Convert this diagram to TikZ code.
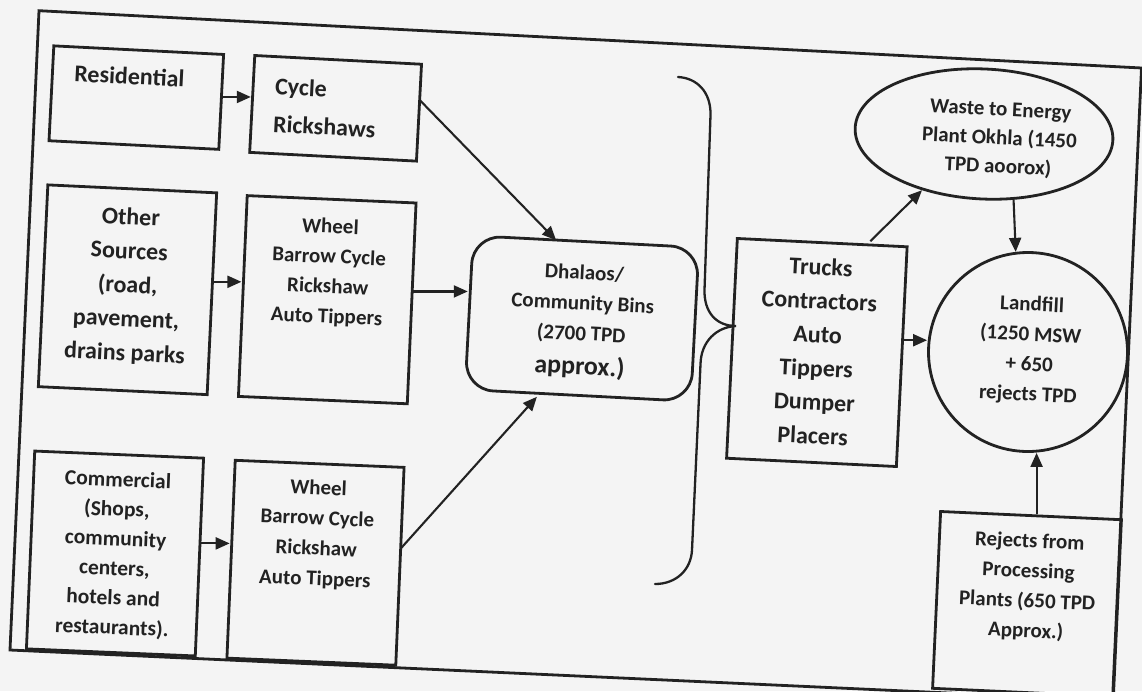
\documentclass[tikz,border=0pt]{standalone}
\usepackage{fontspec}
\setmainfont{Carlito}
\usetikzlibrary{arrows.meta,shapes.geometric}
\definecolor{ink}{HTML}{222222}
\definecolor{paper}{HTML}{F4F4F4}
% #1 width, #2 height, #3 first baseline from top, #4 font size, #5 baselineskip, #6 alignment, #7 text
\newcommand\bx[7]{\parbox[c][#2pt][t]{#1pt}{#6\fontsize{#4}{#5}\selectfont\rule{0pt}{#3pt}#7}}
\begin{document}
\begin{tikzpicture}[x=1pt,y=-1pt,
  box/.style={draw=ink,line width=2.8pt,inner sep=0pt,text=ink,font=\bfseries},
  txt/.style={inner sep=0pt,text=ink,font=\bfseries},
  arr/.style={draw=ink,line width=2.1pt,-{Triangle[length=14pt,width=12pt]}},
  framepath/.style={draw=ink,line width=2.8pt,line join=miter},
  bracepath/.style={draw=ink,line width=2.3pt,line cap=round}]
\useasboundingbox (0,0) rectangle (1142,691);
\clip (0,0) rectangle (1142,691);
\fill[paper] (0,0) rectangle (1142,691);
% outer frame
\draw[framepath] (39,10.7) -- (1141.5,68) -- (1112.5,700.5) -- (10,650) -- cycle;

% left column
\node[box,rotate=-2.9] (res) at (136.3,97.6)
  {\bx{170}{95}{34.5}{24}{34}{\raggedright}{\hspace*{22pt}Residential}};
\node[box,rotate=-3.0] (cyc) at (335.6,108.3)
  {\bx{167}{97}{37.7}{24}{38}{\raggedright}{\hspace*{22pt}Cycle\\\hspace*{22pt}Rickshaws}};
\node[box,rotate=-2.7] (oth) at (127.5,289.75)
  {\bx{169}{202}{36}{24}{34}{\centering}{Other\\Sources\\(road,\\pavement,\\drains parks}};
\node[box,rotate=-2.5] (wh1) at (327.25,299.7)
  {\bx{169}{201}{34}{21}{30}{\centering}{Wheel\\Barrow Cycle\\Rickshaw\\Auto Tippers}};
\node[box,rotate=-2.4] (com) at (115,553.5)
  {\bx{169}{198}{32}{21.5}{29.6}{\centering}{Commercial\\(Shops,\\community\\centers,\\hotels and\\restaurants).}};
\node[box,rotate=-2.4] (wh2) at (315.5,562.75)
  {\bx{169}{198}{30.7}{21}{30.3}{\centering}{Wheel\\Barrow Cycle\\Rickshaw\\Auto Tippers}};

% centre
\node[box,rounded corners=28pt,rotate=-3.0] (dh) at (582,318.5)
  {\bx{226}{154}{38}{21}{30.5}{\centering}{Dhalaos/\\Community Bins\\(2700 TPD\\[3.5pt]{\fontsize{26}{30.5}\selectfont approx.)}}};
\node[box,rotate=-2.8] (tr) at (816.85,352.5)
  {\bx{170}{220}{32.6}{24}{33.8}{\centering}{Trucks\\Contractors\\Auto\\Tippers\\Dumper\\Placers}};

% right column
\node[box,ellipse,rotate=-2.8,minimum width=258pt,minimum height=130pt] (wte) at (984,134) {};
\node[txt,rotate=-2.8] (wtet) at (999,146)
  {\bx{240}{100}{20}{21}{28.5}{\centering}{Waste to Energy\\Plant Okhla (1450\\TPD aoorox)}};
\node[box,circle,minimum size=199pt] (lf) at (1028,352) {};
\node[txt,rotate=-2.7] (lft) at (1030,349)
  {\bx{200}{120}{22}{21}{30}{\centering}{Landfill\\(1250 MSW\\+ 650\\rejects TPD}};
\node[box,rotate=-2.6] (rej) at (1027,604)
  {\bx{181}{177}{32}{21}{30}{\centering}{Rejects from\\Processing\\Plants (650 TPD\\Approx.)}};

% brace
\draw[bracepath] (678,77) .. controls (697,78) and (711,92) .. (710.5,115)
  -- (704.5,290) .. controls (704,312) and (716,326) .. (736,326)
  .. controls (716,327) and (701,342) .. (700.5,364)
  -- (692,550) .. controls (691,570) and (676,584) .. (655,584);

% connectors
\draw[arr] ([yshift=5pt]res.east) coordinate (a1) -- (a1 -| cyc.west);
\draw[arr] ([yshift=12pt]oth.east) coordinate (a2) -- (a2 -| wh1.west);
\draw[arr] ([yshift=13.7pt]com.east) coordinate (a3) -- (a3 -| wh2.west);
\draw[arr] ([yshift=12pt]wh1.east) coordinate (a4) -- (a4 -| dh.west);
\draw[arr] ([yshift=12pt]cyc.east) -- ([xshift=-30pt]dh.north);
\draw[arr] ([yshift=18.5pt]wh2.east) -- ([xshift=-41pt]dh.south);
\draw[arr] ([xshift=48pt]tr.north) -- (wte.225);
\draw[arr] (wte.297) -- (lf.97);
\draw[arr] ([yshift=16.5pt]tr.east) coordinate (a5) -- (a5 -| lf.west);
\draw[arr] ([xshift=5.5pt]rej.north) coordinate (a6) -- (a6 |- lf.south);
\end{tikzpicture}
\end{document}
